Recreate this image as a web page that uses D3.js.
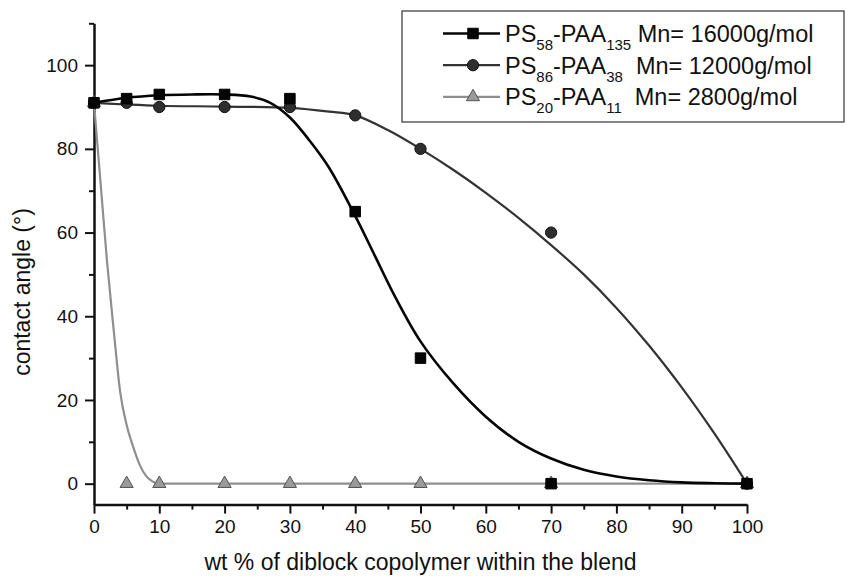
<!DOCTYPE html>
<html>
<head>
<meta charset="utf-8">
<script src="https://cdn.jsdelivr.net/npm/d3@7"></script>
<style>
  body { margin: 0; background: #fff; }
  svg { display: block; }
  text { font-family: "Liberation Sans", Arial, Helvetica, sans-serif; fill: #111; }
</style>
</head>
<body>
<svg id="chart" width="847" height="578"></svg>
<script>
// Tick values
const xMajorTicks = [0, 10, 20, 30, 40, 50, 60, 70, 80, 90, 100];
const xMinorTicks = [5, 15, 25, 35, 45, 55, 65, 75, 85, 95];
const yMajorTicks = [0, 20, 40, 60, 80, 100];
const yMinorTicks = [10, 30, 50, 70, 90, 110];

// Measured contact angles (degrees) vs wt % of diblock copolymer
const ps58Pct   = [0, 5, 10, 20, 30, 40, 50, 70, 100];
const ps58Angle = [91, 92, 93, 93, 92, 65, 30, 0, 0];

const ps86Pct   = [0, 5, 10, 20, 30, 40, 50, 70, 100];
const ps86Angle = [91, 91, 90, 90, 90, 88, 80, 60, 0];

const ps20Pct   = [0, 5, 10, 20, 30, 40, 50, 70, 100];
const ps20Angle = [91, 0, 0, 0, 0, 0, 0, 0, 0];

// Fitted curves
const ps58FitPct   = [0, 5, 10, 15, 20, 24, 27, 30, 33, 36, 40, 43, 46, 50, 55, 60, 65, 70, 75, 80, 85, 90, 95, 100];
const ps58FitAngle = [91, 92.2, 92.8, 93, 93, 92.5, 91, 87.5, 82, 75.5, 64, 54.5, 45, 34, 24, 16, 10, 6, 3.3, 1.7, 0.8, 0.3, 0.1, 0];

const ps86FitPct   = [0, 5, 10, 20, 30, 36, 40, 45, 50, 55, 60, 65, 70, 75, 80, 85, 90, 95, 100];
const ps86FitAngle = [91, 90.6, 90.3, 90.1, 89.8, 88.9, 88, 84.5, 80, 75, 69.5, 63.5, 57, 50, 42, 33, 23, 12, 0];

const ps20FitPct   = [0, 1, 2, 3, 4, 5, 6, 7, 8, 9, 10, 20, 30, 40, 50, 60, 70, 80, 90, 100];
const ps20FitAngle = [91, 72, 53, 37, 22, 14, 8.8, 4.5, 1.8, 0.5, 0, 0, 0, 0, 0, 0, 0, 0, 0, 0];

const legendNames = [
  { a: "PS", s1: "58", b: "-PAA", s2: "135", c: " Mn= 16000g/mol" },
  { a: "PS", s1: "86", b: "-PAA", s2: "38",  c: "  Mn= 12000g/mol" },
  { a: "PS", s1: "20", b: "-PAA", s2: "11",  c: "  Mn= 2800g/mol" }
];

const svg = d3.select("#chart");

const x = d3.scaleLinear().domain([0, 100]).range([94, 747]);
const y = d3.scaleLinear().domain([-5, 110]).range([504.6, 23.3]);

// Axes (outward ticks, major + minor)
const axisG = svg.append("g");
const xAxisY = y(-5);
const yAxisX = x(0);
const tickFont = '"Liberation Sans", Arial, sans-serif';

axisG.append("g")
  .attr("transform", `translate(0,${xAxisY})`)
  .call(d3.axisBottom(x).tickValues(xMinorTicks).tickSize(5).tickFormat(""))
  .call(g => g.select(".domain").remove())
  .call(g => g.selectAll("line").attr("stroke", "#111").attr("stroke-width", 2));

axisG.append("g")
  .attr("transform", `translate(0,${xAxisY})`)
  .call(d3.axisBottom(x).tickValues(xMajorTicks).tickSize(9).tickPadding(6).tickSizeOuter(0))
  .call(g => g.select(".domain").attr("stroke", "#111").attr("stroke-width", 2.5))
  .call(g => g.selectAll("line").attr("stroke", "#111").attr("stroke-width", 2))
  .call(g => g.selectAll("text").attr("font-size", 19).attr("fill", "#111").attr("font-family", tickFont));

axisG.append("g")
  .attr("transform", `translate(${yAxisX},0)`)
  .call(d3.axisLeft(y).tickValues(yMinorTicks).tickSize(5).tickFormat(""))
  .call(g => g.select(".domain").remove())
  .call(g => g.selectAll("line").attr("stroke", "#111").attr("stroke-width", 2));

axisG.append("g")
  .attr("transform", `translate(${yAxisX},0)`)
  .call(d3.axisLeft(y).tickValues(yMajorTicks).tickSize(9).tickPadding(7).tickSizeOuter(0))
  .call(g => g.select(".domain").attr("stroke", "#111").attr("stroke-width", 2.5))
  .call(g => g.selectAll("line").attr("stroke", "#111").attr("stroke-width", 2))
  .call(g => g.selectAll("text").attr("font-size", 19).attr("fill", "#111").attr("font-family", tickFont));

// Axis titles
svg.append("text")
  .attr("x", (x(0) + x(100)) / 2)
  .attr("y", 570)
  .attr("text-anchor", "middle")
  .attr("font-size", 23)
  .text("wt % of diblock copolymer within the blend");

svg.append("text")
  .attr("transform", `translate(29.5,292) rotate(-90)`)
  .attr("text-anchor", "middle")
  .attr("font-size", 23)
  .text("contact angle (°)");

// Fitted curves
const smoothLine = d3.line().x(d => x(d[0])).y(d => y(d[1])).curve(d3.curveCatmullRom.alpha(0.5));
const kneeLine = d3.line().x(d => x(d[0])).y(d => y(d[1])).curve(d3.curveMonotoneX);

const series = [
  { fx: ps20FitPct, fy: ps20FitAngle, px: ps20Pct, py: ps20Angle, gen: kneeLine,   stroke: "#8f8f8f", width: 2.2, marker: "triangle", fill: "#9a9a9a", mstroke: "#555" },
  { fx: ps86FitPct, fy: ps86FitAngle, px: ps86Pct, py: ps86Angle, gen: smoothLine, stroke: "#333",    width: 2.2, marker: "circle",   fill: "#2e2e2e", mstroke: "#111" },
  { fx: ps58FitPct, fy: ps58FitAngle, px: ps58Pct, py: ps58Angle, gen: smoothLine, stroke: "#050505", width: 2.6, marker: "square",   fill: "#050505", mstroke: "#000" }
];

const symbolFor = {
  square: d3.symbol().type(d3.symbolSquare).size(110),
  circle: d3.symbol().type(d3.symbolCircle).size(100),
  triangle: d3.symbol().type(d3.symbolTriangle).size(75)
};

series.forEach(s => {
  svg.append("path")
    .datum(s.fx.map((v, i) => [v, s.fy[i]]))
    .attr("fill", "none")
    .attr("stroke", s.stroke)
    .attr("stroke-width", s.width)
    .attr("d", s.gen);
});

series.forEach(s => {
  svg.append("g").selectAll("path")
    .data(s.px.map((v, i) => [v, s.py[i]]))
    .join("path")
    .attr("transform", d => `translate(${x(d[0])},${y(d[1])})`)
    .attr("d", symbolFor[s.marker])
    .attr("fill", s.fill)
    .attr("stroke", s.mstroke)
    .attr("stroke-width", 1);
});

// Legend
const legend = svg.append("g");
legend.append("rect")
  .attr("x", 402).attr("y", 11)
  .attr("width", 442).attr("height", 111)
  .attr("fill", "#fff")
  .attr("stroke", "#333")
  .attr("stroke-width", 1.2);

const legendOrder = [series[2], series[1], series[0]];
legendOrder.forEach((s, i) => {
  const cy = 33.5 + i * 31.7;
  const row = legend.append("g");
  row.append("line")
    .attr("x1", 443).attr("x2", 500)
    .attr("y1", cy).attr("y2", cy)
    .attr("stroke", s.stroke).attr("stroke-width", s.width);
  row.append("path")
    .attr("transform", `translate(473,${cy})`)
    .attr("d", symbolFor[s.marker])
    .attr("fill", s.fill)
    .attr("stroke", s.mstroke);
  const n = legendNames[i];
  const t = row.append("text")
    .attr("x", 505).attr("y", cy + 8.3)
    .attr("font-size", 23.5)
    .attr("xml:space", "preserve");
  t.append("tspan").text(n.a);
  t.append("tspan").attr("font-size", 15).attr("dy", 8).text(n.s1);
  t.append("tspan").attr("dy", -8).text(n.b);
  t.append("tspan").attr("font-size", 15).attr("dy", 8).text(n.s2);
  t.append("tspan").attr("dy", -8).text(n.c);
});
</script>
</body>
</html>
